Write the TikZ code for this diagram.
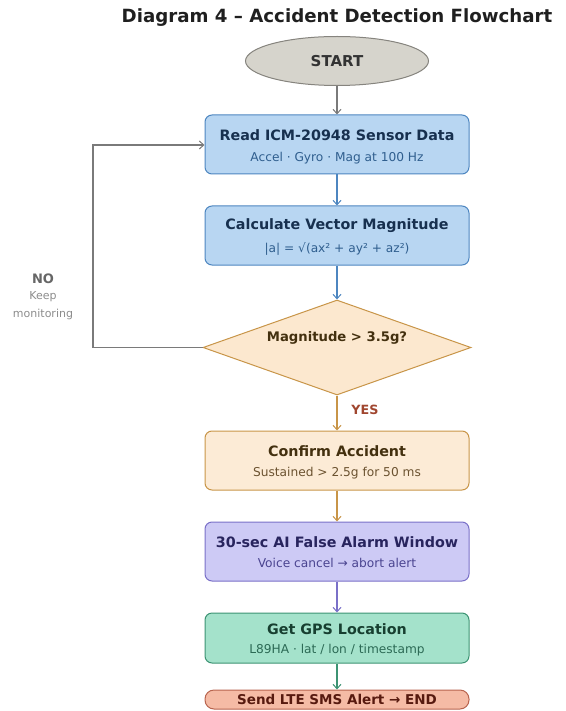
\documentclass[tikz,border=0pt]{standalone}
\usepackage{fontspec}
\setmainfont{DejaVu Sans}
\usetikzlibrary{shapes.geometric,arrows.meta}
\definecolor{startfill}{HTML}{D6D4CC}
\definecolor{startdraw}{HTML}{86847E}
\definecolor{bluefill}{HTML}{B8D6F2}
\definecolor{bluedraw}{HTML}{4D86C0}
\definecolor{bluetitle}{HTML}{17304F}
\definecolor{bluesub}{HTML}{2F5E8E}
\definecolor{tanfill}{HTML}{FCE8CF}
\definecolor{tanfillb}{HTML}{FCEBD6}
\definecolor{tandraw}{HTML}{C89548}
\definecolor{tantitle}{HTML}{43300F}
\definecolor{tansub}{HTML}{6B5230}
\definecolor{purfill}{HTML}{CDCAF5}
\definecolor{purdraw}{HTML}{7A70C8}
\definecolor{purtitle}{HTML}{28245E}
\definecolor{pursub}{HTML}{4A4490}
\definecolor{grnfill}{HTML}{A4E2CB}
\definecolor{grndraw}{HTML}{3C9373}
\definecolor{grntitle}{HTML}{173F30}
\definecolor{grnsub}{HTML}{2C6A55}
\definecolor{redfill}{HTML}{F5BBA5}
\definecolor{reddraw}{HTML}{B8644E}
\definecolor{redtitle}{HTML}{571A0F}
\definecolor{yescol}{HTML}{A0462F}
\definecolor{linegray}{HTML}{7A7A7A}
\tikzset{
  box/.style={draw, rounded corners=7pt, line width=1pt, minimum width=264pt, minimum height=59pt, inner sep=0pt},
  ttl/.style={font=\bfseries\fontsize{14.3}{16}\selectfont},
  sub/.style={font=\fontsize{12.2}{14}\selectfont},
  conn/.style={line width=1.1pt, -{Straight Barb[length=4.5pt,width=8pt,line width=1pt]}},
}
\begin{document}
\begin{tikzpicture}[x=1pt,y=-1pt]
\useasboundingbox (0,0) rectangle (565,711);
\node[font=\bfseries\fontsize{18.2}{20}\selectfont, text=black!88] (title) at (337,18) {Diagram 4 – Accident Detection Flowchart};
\node[ellipse, draw=startdraw, fill=startfill, line width=1pt, minimum width=183pt, minimum height=49pt, inner sep=0pt] (start) at (337,61) {};
\node[font=\bfseries\fontsize{15}{17}\selectfont, text=black!80] (starttxt) at (337,61) {START};

\node[box, draw=bluedraw, fill=bluefill] (b1) at (337,144.5) {};
\node[ttl, text=bluetitle] (b1t) at (337,135) {Read ICM-20948 Sensor Data};
\node[sub, text=bluesub] (b1s) at (337,158) {Accel · Gyro · Mag at 100 Hz};

\node[box, draw=bluedraw, fill=bluefill] (b2) at (337,235.5) {};
\node[ttl, text=bluetitle] (b2t) at (337,226) {Calculate Vector Magnitude};
\node[sub, text=bluesub] (b2s) at (337,249) {|a| = √(ax² + ay² + az²)};

\node[diamond, draw=tandraw, fill=tanfill, line width=1pt, aspect=2.8, minimum width=268pt, minimum height=95pt, inner sep=0pt] (d) at (337,347.5) {};
\node[font=\bfseries\fontsize{13.2}{15}\selectfont, text=tantitle] (dt) at (337,338) {Magnitude > 3.5g?};

\node[box, draw=tandraw, fill=tanfillb] (b3) at (337,460.5) {};
\node[ttl, text=tantitle] (b3t) at (337,451) {Confirm Accident};
\node[sub, text=tansub] (b3s) at (337,473) {Sustained > 2.5g for 50 ms};

\node[box, draw=purdraw, fill=purfill] (b4) at (337,551.5) {};
\node[ttl, text=purtitle] (b4t) at (337,542) {30-sec AI False Alarm Window};
\node[sub, text=pursub] (b4s) at (337,563) {Voice cancel → abort alert};

\node[box, draw=grndraw, fill=grnfill, minimum height=50pt] (b5) at (337,638) {};
\node[ttl, text=grntitle] (b5t) at (337,629) {Get GPS Location};
\node[sub, text=grnsub] (b5s) at (337,650) {L89HA · lat / lon / timestamp};

\node[draw=reddraw, fill=redfill, line width=1pt, rounded corners=9pt, minimum width=264pt, minimum height=19pt, inner sep=0pt] (b6) at (337,699.5) {};
\node[font=\bfseries\fontsize{13.5}{15}\selectfont, text=redtitle] (b6t) at (337,699.5) {Send LTE SMS Alert → END};

\draw[conn, linegray] (start) -- (b1);
\draw[conn, bluedraw] (b1) -- (b2);
\draw[conn, bluedraw] (b2) -- (d.north);
\draw[conn, tandraw] (d.south) -- (b3);
\draw[conn, tandraw] (b3) -- (b4);
\draw[conn, purdraw] (b4) -- (b5);
\draw[conn, grndraw] (b5) -- (b6);
\coordinate (lb) at (93,347.5);
\coordinate (lt) at (93,145);
\draw[conn, linegray] (d.west) -- (lb) -- (lt) -- (b1.west |- lt);

\node[font=\bfseries\fontsize{13}{15}\selectfont, text=black!60] (no) at (43,279) {NO};
\node[font=\fontsize{11}{13}\selectfont, text=black!45] (keep) at (43,297) {Keep};
\node[font=\fontsize{11}{13}\selectfont, text=black!45] (mon) at (43,314) {monitoring};
\node[font=\bfseries\fontsize{12.7}{15}\selectfont, text=yescol] (yes) at (365,410) {YES};
\end{tikzpicture}
\end{document}
